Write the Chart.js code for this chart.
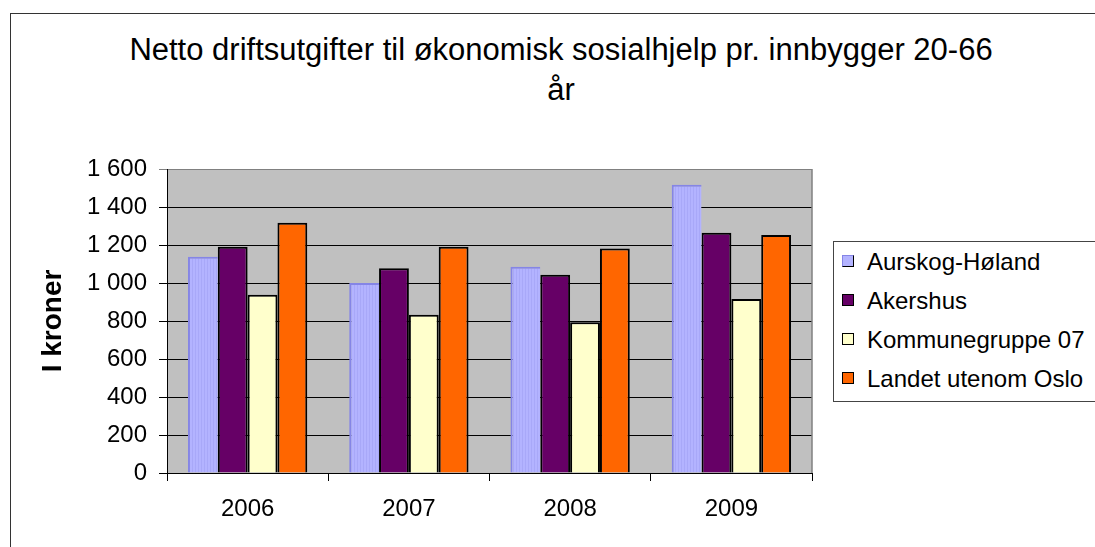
<!DOCTYPE html>
<html>
<head>
<meta charset="utf-8">
<script src="https://cdn.jsdelivr.net/npm/chart.js@4/dist/chart.umd.min.js"></script>
<style>
    html, body { margin: 0; padding: 0; background: #fff; }
    #wrap { position: relative; width: 1095px; height: 547px; overflow: hidden; font-family: 'Liberation Sans', Arial, sans-serif; }
    #frame { position: absolute; left: 10px; top: 13px; width: 1200px; height: 600px; border-left: 1.5px solid #333; border-top: 1.5px solid #333; }
    #title { position: absolute; left: 61px; width: 1000px; top: 30px; text-align: center; font-size: 31px; line-height: 40px; color: #000; white-space: nowrap; }
    #legend { position: absolute; left: 833px; top: 241px; width: 300px; height: 159px; border: 1px solid #444; background: #fff; }
    .item { position: absolute; left: 8px; height: 39px; line-height: 39px; font-size: 24px; color: #000; white-space: nowrap; }
    .item i { position: absolute; left: 0; top: 13px; width: 10px; height: 10px; border: 1px solid #000; }
    .item span { position: absolute; left: 25px; }
    canvas { position: absolute; left: 0; top: 0; }
</style>
</head>
<body>
<div id="wrap">
    <div id="frame"></div>
    <div id="title">Netto driftsutgifter til økonomisk sosialhjelp pr. innbygger 20-66<br>år</div>
    <canvas id="chart" width="1095" height="547"></canvas>
    <div id="legend"></div>
</div>
<script>
const years = ['2006', '2007', '2008', '2009'];
const seriesNames = ['Aurskog-Høland', 'Akershus', 'Kommunegruppe 07', 'Landet utenom Oslo'];
const aurskogHoland = [1138, 1000, 1086, 1517];
const akershus = [1191, 1077, 1044, 1265];
const kommunegruppe07 = [938, 833, 793, 916];
const landetUtenomOslo = [1317, 1191, 1181, 1253];
const yTicks = [0, 200, 400, 600, 800, 1000, 1200, 1400, 1600];
const colors = ['#B3B3FF', '#660066', '#FFFFCC', '#FF6600'];

Chart.defaults.font.family = "'Liberation Sans', Arial, sans-serif";
Chart.defaults.color = '#000';

// striped lavender fill like the old office chart
function stripes() {
    const c = document.createElement('canvas');
    c.width = 3; c.height = 4;
    const g = c.getContext('2d');
    g.fillStyle = '#B3B3FF'; g.fillRect(0, 0, 3, 4);
    g.fillStyle = '#A8A8F8'; g.fillRect(0, 0, 1, 4);
    return g.createPattern(c, 'repeat');
}

function fmt(v) {
    if (v < 1000) return String(v);
    return Math.floor(v / 1000) + ' ' + String(v % 1000).padStart(3, '0');
}

const plotBg = {
    id: 'plotBg',
    beforeDraw(chart) {
        const { ctx, chartArea: a } = chart;
        ctx.save();
        ctx.fillStyle = '#C0C0C0';
        ctx.fillRect(a.left, a.top, a.right - a.left, a.bottom - a.top);
        ctx.restore();
    },
    beforeDatasetsDraw(chart) {
        const { ctx, chartArea: a } = chart;
        ctx.save();
        ctx.strokeStyle = '#808080';
        ctx.lineWidth = 1.5;
        ctx.beginPath();
        ctx.moveTo(a.right, a.top);
        ctx.lineTo(a.right, a.bottom);
        ctx.stroke();
        ctx.restore();
    }
};

const values = [aurskogHoland, akershus, kommunegruppe07, landetUtenomOslo];
const datasets = seriesNames.map((name, i) => ({
    label: name,
    data: values[i],
    backgroundColor: i === 0 ? stripes() : colors[i],
    borderColor: i === 0 ? '#8585E6' : '#000',
    borderWidth: i === 0 ? { top: 2, left: 2, right: 0, bottom: 0 } : 2,
    borderSkipped: 'start'
}));

new Chart(document.getElementById('chart'), {
    type: 'bar',
    data: { labels: years, datasets },
    options: {
        responsive: false,
        animation: false,
        categoryPercentage: 0.74,
        barPercentage: 1.0,
        layout: { padding: { left: 20, top: 169, right: 283, bottom: 0 } },
        plugins: { legend: { display: false }, tooltip: { enabled: false } },
        scales: {
            x: {
                grid: { offset: true, drawOnChartArea: false, color: '#000', tickLength: 8 },
                border: { color: '#000', width: 1 },
                ticks: { font: { size: 24 }, padding: 14 },
                afterFit(s) { s.height = 74; }
            },
            y: {
                min: 0, max: 1600,
                afterBuildTicks(s) { s.ticks = yTicks.map(v => ({ value: v })); },
                grid: { color: c => (c.tick && c.tick.value === 1600 ? '#808080' : '#000'), tickLength: 8 },
                border: { color: '#000', width: 1 },
                ticks: { font: { size: 24 }, padding: 12, callback: v => fmt(v) },
                title: { display: true, text: 'I kroner', font: { size: 28, weight: 'bold' }, padding: { top: 16, bottom: 0 } },
                afterFit(s) { s.width = 147; }
            }
        }
    },
    plugins: [plotBg]
});

// legend built from the same names/colours
const legend = document.getElementById('legend');
legend.innerHTML = seriesNames.map((n, i) => {
    const edge = i === 0 ? 'border-color:#8585E6 #000 #000 #8585E6;' : '';
    return `<div class="item" style="top:${i * 39}px"><i style="background:${colors[i]};${edge}"></i><span>${n}</span></div>`;
}).join('');
</script>
</body>
</html>
